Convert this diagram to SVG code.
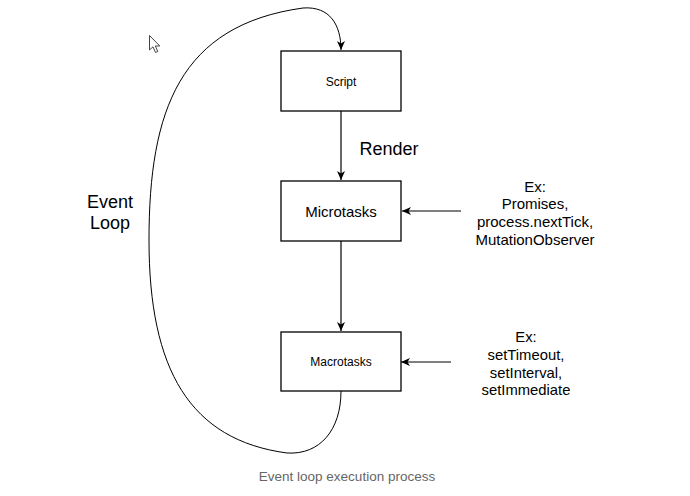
<svg xmlns="http://www.w3.org/2000/svg" width="690" height="496" viewBox="0 0 690 496">
<style>
.box{fill:#fff;stroke:#000;stroke-width:1.3}
.edge{fill:none;stroke:#000;stroke-width:1.2}
.t{font-family:"Liberation Sans",Arial,Helvetica,sans-serif;fill:#000;text-anchor:middle}
.cap{font-family:"Liberation Sans",Arial,sans-serif;fill:#666;font-size:13.5px;text-anchor:middle}
</style>
<defs>
<marker id="arr" markerUnits="userSpaceOnUse" markerWidth="10" markerHeight="10" viewBox="0 0 10 10" refX="9" refY="5" orient="auto">
<path d="M0,1 L9,5 L0,9 L2.5,5 Z" fill="#000"/>
</marker>
</defs>
<rect width="690" height="496" fill="#fff"/>
<g id="connectors">
<path class="edge" d="M341,111 L341,180" marker-end="url(#arr)"/>
<path class="edge" d="M341,241 L341,331" marker-end="url(#arr)"/>
<path class="edge" d="M461,211 L402,211" marker-end="url(#arr)"/>
<path class="edge" d="M451,362 L401,362" marker-end="url(#arr)"/>
<path class="edge" d="M341,391 C341,430 320,455 287,453 C190,440 149,370 149,240 C149,110 180,25 303,8 C330,6 341,25 341,50" marker-end="url(#arr)" style="stroke-width:1"/>
</g>
<g id="script">
<rect class="box" x="281" y="51" width="120" height="60"/>
<text class="t" x="341" y="86" font-size="12">Script</text>
</g>
<g id="microtasks">
<rect class="box" x="281" y="181" width="120" height="60"/>
<text class="t" x="341" y="217" font-size="15">Microtasks</text>
</g>
<g id="macrotasks">
<rect class="box" x="281" y="332" width="120" height="59"/>
<text class="t" x="341" y="366" font-size="12">Macrotasks</text>
</g>
<g id="render-label">
<text class="t" x="389" y="155" font-size="18">Render</text>
</g>
<g id="event-loop-label">
<text class="t" x="110" y="208" font-size="18">Event</text>
<text class="t" x="110" y="229" font-size="18">Loop</text>
</g>
<g id="micro-examples">
<text class="t" x="535" y="192" font-size="15">Ex:</text>
<text class="t" x="535" y="209" font-size="15">Promises,</text>
<text class="t" x="535" y="227" font-size="15">process.nextTick,</text>
<text class="t" x="535" y="245" font-size="15">MutationObserver</text>
</g>
<g id="macro-examples">
<text class="t" x="526" y="342" font-size="14.8">Ex:</text>
<text class="t" x="526" y="360" font-size="14.8">setTimeout,</text>
<text class="t" x="526" y="378" font-size="14.8">setInterval,</text>
<text class="t" x="526" y="395" font-size="14.8">setImmediate</text>
</g>
<g id="cursor">
<path d="M149.5,35.5 L149.5,50 L153,46.8 L155.5,52.5 L157.8,51.5 L155.3,46 L159.8,46 Z" fill="#fff" stroke="#444" stroke-width="1" stroke-linejoin="round"/>
</g>
<text class="cap" x="347" y="481">Event loop execution process</text>
</svg>
